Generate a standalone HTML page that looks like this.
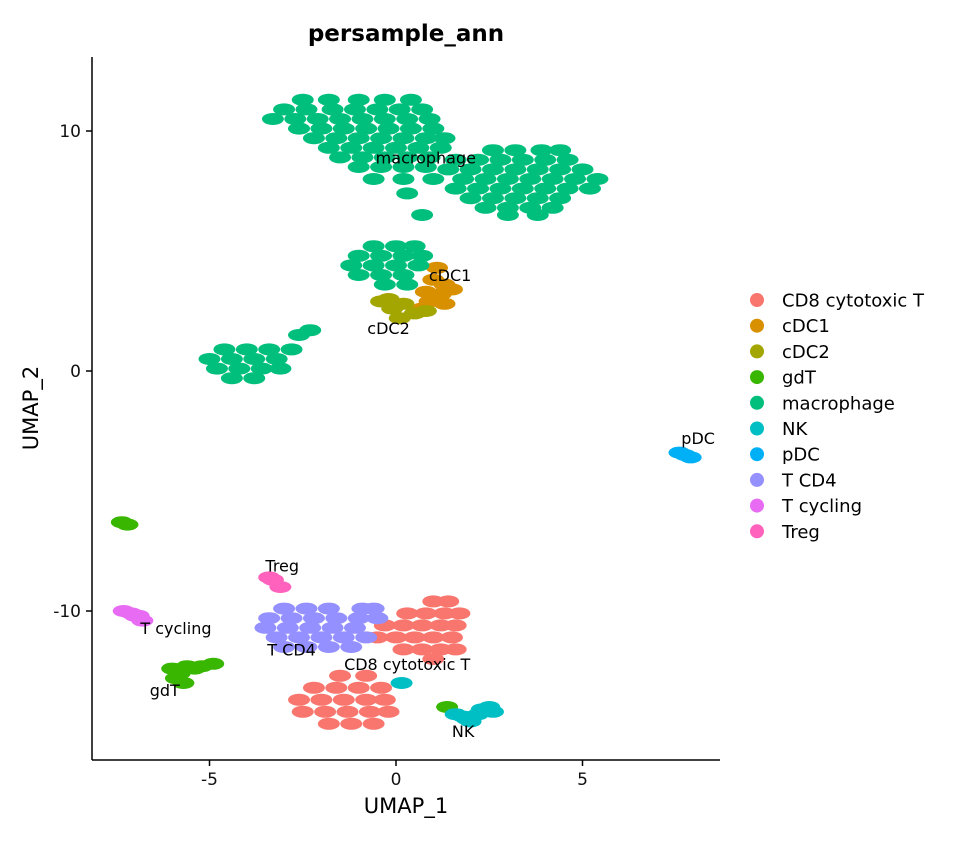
<!DOCTYPE html>
<html><head><meta charset="utf-8"><style>
body{margin:0;background:#fff;}
svg{font-family:"DejaVu Sans","Liberation Sans",sans-serif;}
</style></head><body>
<svg id="chart" width="960" height="840" xmlns="http://www.w3.org/2000/svg">
<rect width="960" height="840" fill="#fff"/>
<text x="406" y="41" font-size="23" font-weight="bold" text-anchor="middle">persample_ann</text>
<g id="points"></g>
<g id="labels"></g>
<line x1="92" y1="57" x2="92" y2="760" stroke="#000" stroke-width="1.5"/>
<line x1="92" y1="760" x2="720" y2="760" stroke="#000" stroke-width="1.5"/>
<g id="axes"></g>
<text x="406" y="813" font-size="21" text-anchor="middle">UMAP_1</text>
<text x="38" y="408" font-size="21" text-anchor="middle" transform="rotate(-90 38 408)">UMAP_2</text>
<g id="legend"></g>
</svg>
<script>
const categories=["CD8 cytotoxic T","cDC1","cDC2","gdT","macrophage","NK","pDC","T CD4","T cycling","Treg"];
const colors=["#F8766D","#D89000","#A3A500","#39B600","#00BF7D","#00BFC4","#00B0F6","#9590FF","#E76BF3","#FF62BC"];
const xTicks=[-5,0,5];
const yTicks=[-10,0,10];
const macrophagePts=[
[-2.5,11.3],[-1.8,11.3],[-1,11.3],[-0.3,11.3],[0.4,11.3],
[-3,10.9],[-2.4,10.9],[-1.7,10.9],[-1.1,10.9],[-0.5,10.9],[0.1,10.9],[0.7,10.9],
[-3.3,10.5],[-2.7,10.5],[-2.1,10.5],[-1.5,10.5],[-0.9,10.5],[-0.3,10.5],[0.3,10.5],[0.9,10.5],
[-2.6,10.1],[-2,10.1],[-1.4,10.1],[-0.8,10.1],[-0.2,10.1],[0.4,10.1],[1,10.1],
[-2.2,9.7],[-1.6,9.7],[-1,9.7],[-0.4,9.7],[0.2,9.7],[0.8,9.7],[1.3,9.7],
[-1.8,9.3],[-1.2,9.3],[-0.6,9.3],[0,9.3],[0.6,9.3],[1.2,9.3],
[-1.5,8.9],[-0.9,8.9],[-0.3,8.9],[0.3,8.9],[0.9,8.9],
[-1,8.5],[-0.4,8.5],[0.2,8.5],[0.8,8.5],[-0.6,8],[0.2,8],[1,8],[0.3,7.4],[0.7,6.5],
[2.6,9.2],[3.2,9.2],[3.9,9.2],[4.4,9.2],
[1.6,8.8],[2.2,8.8],[2.8,8.8],[3.4,8.8],[4,8.8],[4.6,8.8],
[1.4,8.4],[2,8.4],[2.6,8.4],[3.2,8.4],[3.8,8.4],[4.4,8.4],[5,8.4],
[1.8,8],[2.4,8],[3,8],[3.6,8],[4.2,8],[4.8,8],[5.4,8],
[1.6,7.6],[2.2,7.6],[2.8,7.6],[3.4,7.6],[4,7.6],[4.6,7.6],[5.2,7.6],
[2,7.2],[2.6,7.2],[3.2,7.2],[3.8,7.2],[4.4,7.2],[2.4,6.8],[3,6.8],[3.6,6.8],[4.2,6.8],[3,6.5],[3.8,6.5],
[-0.6,5.2],[0,5.2],[0.5,5.2],[-1,4.8],[-0.4,4.8],[0.2,4.8],[0.7,4.8],
[-1.2,4.4],[-0.6,4.4],[0,4.4],[0.6,4.4],[-1,4],[-0.4,4],[0.2,4],[-0.3,3.6],[0.3,3.6],
[-4.6,0.9],[-4,0.9],[-3.4,0.9],[-2.8,0.9],[-5,0.5],[-4.4,0.5],[-3.8,0.5],[-3.2,0.5],
[-4.8,0.1],[-4.2,0.1],[-3.6,0.1],[-3.1,0.1],[-4.4,-0.3],[-3.8,-0.3],[-2.6,1.5],[-2.3,1.7]];
const cdc1Pts=[[1,3.8],[1.3,3.6],[0.8,3.3],[1.2,3.2],[1.5,3.4],[0.9,2.9],[1.3,2.8],[1.1,4.3],[0.7,2.6]];
const cdc2Pts=[[-0.4,2.9],[-0.1,2.6],[0.2,2.8],[0.5,2.4],[0.8,2.5],[0.1,2.2],[-0.2,3]];
const gdtPts=[[-6,-12.4],[-5.8,-12.6],[-5.6,-12.3],[-5.4,-12.4],[-5.9,-12.8],[-5.7,-13],[-5.2,-12.3],[-4.9,-12.2],[-7.35,-6.3],[-7.2,-6.4],[1.37,-14]];
const nkPts=[[1.6,-14.3],[1.9,-14.5],[2.2,-14.3],[2.5,-14],[2.6,-14.2],[2,-14.6],[2.3,-14.1],[1.8,-14.4],[0.15,-13]];
const pdcPts=[[7.6,-3.4],[7.75,-3.5],[7.9,-3.6]];
const tcd4Pts=[[-3,-9.9],[-2.4,-9.9],[-1.8,-9.9],[-0.9,-9.9],[-0.6,-9.9],
[-3.4,-10.3],[-2.8,-10.3],[-2.2,-10.3],[-1.6,-10.3],[-1,-10.3],[-0.5,-10.3],
[-3.5,-10.7],[-2.9,-10.7],[-2.3,-10.7],[-1.7,-10.7],[-1.1,-10.7],
[-3.2,-11.1],[-2.6,-11.1],[-2,-11.1],[-1.4,-11.1],[-0.8,-11.1],[-3,-11.5],[-2.4,-11.5],[-1.8,-11.5],[-1.2,-11.5]];
const tcyclingPts=[[-7.3,-10],[-7.1,-10.1],[-6.9,-10.2],[-6.8,-10.4],[-7,-10.2]];
const tregPts=[[-3.4,-8.6],[-3.3,-8.7],[-3.1,-9]];
const cd8Pts=[[1,-9.6],[1.4,-9.6],[0.3,-10.1],[0.8,-10.1],[1.3,-10.1],[1.7,-10.1],
[-0.3,-10.6],[0.2,-10.6],[0.7,-10.6],[1.2,-10.6],[1.6,-10.6],[-0.5,-11.1],[0,-11.1],[0.5,-11.1],[1,-11.1],[1.5,-11.1],
[0.2,-11.6],[0.7,-11.6],[1.2,-11.6],[1.6,-11.6],[1,-12],
[-1.5,-12.7],[-0.8,-12.7],[-2.2,-13.2],[-1.6,-13.2],[-1,-13.2],[-0.4,-13.2],
[-2.6,-13.7],[-2,-13.7],[-1.4,-13.7],[-0.8,-13.7],[-0.3,-13.7],
[-2.5,-14.2],[-1.9,-14.2],[-1.3,-14.2],[-0.7,-14.2],[-0.2,-14.2],[-1.8,-14.7],[-1.2,-14.7],[-0.6,-14.7]];
const seriesPts=[cd8Pts,cdc1Pts,cdc2Pts,gdtPts,macrophagePts,nkPts,pdcPts,tcd4Pts,tcyclingPts,tregPts];
const labelText=["macrophage","cDC1","cDC2","pDC","Treg","T cycling","T CD4","CD8 cytotoxic T","gdT","NK"];
const labelPos=[[0.8,8.9],[1.45,4],[-0.2,1.8],[8.1,-2.8],[-3.05,-8.1],[-5.9,-10.7],[-2.8,-11.6],[0.3,-12.2],[-6.2,-13.3],[1.8,-15]];
const sx=v=>396+v*37.3, sy=v=>371-v*24;
const NS="http://www.w3.org/2000/svg";
function mk(tag,attrs,parent){const e=document.createElementNS(NS,tag);for(const k in attrs)e.setAttribute(k,attrs[k]);parent.appendChild(e);return e;}
const pg=document.getElementById('points');
seriesPts.forEach((pts,i)=>{pts.forEach(p=>{
 const c=mk('ellipse',{cx:sx(p[0]),cy:sy(p[1]),rx:11,ry:6,fill:colors[i]},pg);
 
 
});});
const lg=document.getElementById('labels');
labelText.forEach((t,i)=>{
 const e=mk('text',{x:sx(labelPos[i][0]),y:sy(labelPos[i][1])+6,'font-size':16,'text-anchor':'middle',fill:'#000'},lg);
 e.textContent=t;
 
 
});
const ax=document.getElementById('axes');
xTicks.forEach(v=>{
 const l=mk('line',{x1:sx(v),x2:sx(v),y1:760,y2:766,stroke:'#000','stroke-width':1.5},ax);
 
 
 const t=mk('text',{x:sx(v),y:785,'font-size':17,'text-anchor':'middle',fill:'#111'},ax);
 t.textContent=String(v);
 
 
});
yTicks.forEach(v=>{
 const l=mk('line',{x1:86,x2:92,y1:sy(v),y2:sy(v),stroke:'#000','stroke-width':1.5},ax);
 
 
 const t=mk('text',{x:81,y:sy(v)+6,'font-size':17,'text-anchor':'end',fill:'#111'},ax);
 t.textContent=String(v);
 
 
});
const leg=document.getElementById('legend');
categories.forEach((c,i)=>{
 const y=300+i*25.7;
 const d=mk('circle',{cx:757,cy:y,r:7,fill:colors[i]},leg);
 
 
 const t=mk('text',{x:782,y:y+6.5,'font-size':18,fill:'#000'},leg);
 t.textContent=c;
 
 
});
</script>
</body></html>
